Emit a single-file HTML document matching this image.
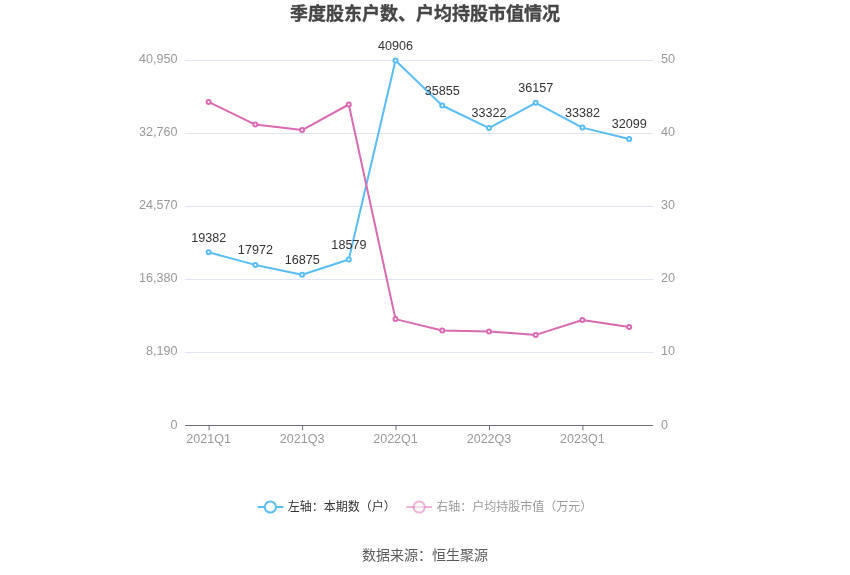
<!DOCTYPE html>
<html lang="zh"><head><meta charset="utf-8"><title>季度股东户数、户均持股市值情况</title>
<style>
html,body{margin:0;padding:0;background:#fff;}
body{width:850px;height:575px;overflow:hidden;font-family:"Liberation Sans","Noto Sans CJK SC",sans-serif;}
svg{display:block;}
svg text{font-family:"Liberation Sans","Noto Sans CJK SC",sans-serif;}
.ax{font-size:12px;fill:#999;}
.lb{font-size:12px;fill:#333;}
</style></head><body>
<svg width="850" height="575" viewBox="0 0 850 575">
<rect width="850" height="575" fill="#fff"/>
<text x="425" y="20" text-anchor="middle" font-size="18" font-weight="bold" fill="#464646" stroke="#464646" stroke-width="0.35">季度股东户数、户均持股市值情况</text>
<rect x="185" y="60" width="468" height="1" fill="#E0E6F1"/>
<rect x="185" y="133" width="468" height="1" fill="#E0E6F1"/>
<rect x="185" y="206" width="468" height="1" fill="#E0E6F1"/>
<rect x="185" y="279" width="468" height="1" fill="#E0E6F1"/>
<rect x="185" y="352" width="468" height="1" fill="#E0E6F1"/>
<rect x="185" y="425" width="468" height="1" fill="#6E7079"/>
<rect x="208.6" y="425" width="1" height="5.3" fill="#6E7079"/>
<rect x="302.1" y="425" width="1" height="5.3" fill="#6E7079"/>
<rect x="395.5" y="425" width="1" height="5.3" fill="#6E7079"/>
<rect x="489.0" y="425" width="1" height="5.3" fill="#6E7079"/>
<rect x="582.4" y="425" width="1" height="5.3" fill="#6E7079"/>
<text class="ax" x="177.6" y="62.5" text-anchor="end" textLength="38.53" lengthAdjust="spacingAndGlyphs">40,950</text>
<text class="ax" x="177.6" y="135.5" text-anchor="end" textLength="38.53" lengthAdjust="spacingAndGlyphs">32,760</text>
<text class="ax" x="177.6" y="208.5" text-anchor="end" textLength="38.53" lengthAdjust="spacingAndGlyphs">24,570</text>
<text class="ax" x="177.6" y="281.5" text-anchor="end" textLength="38.53" lengthAdjust="spacingAndGlyphs">16,380</text>
<text class="ax" x="177.6" y="354.5" text-anchor="end" textLength="31.53" lengthAdjust="spacingAndGlyphs">8,190</text>
<text class="ax" x="177.6" y="428.5" text-anchor="end" textLength="7.01" lengthAdjust="spacingAndGlyphs">0</text>
<text class="ax" x="661" y="62.5" text-anchor="start" textLength="14.01" lengthAdjust="spacingAndGlyphs">50</text>
<text class="ax" x="661" y="135.5" text-anchor="start" textLength="14.01" lengthAdjust="spacingAndGlyphs">40</text>
<text class="ax" x="661" y="208.5" text-anchor="start" textLength="14.01" lengthAdjust="spacingAndGlyphs">30</text>
<text class="ax" x="661" y="281.5" text-anchor="start" textLength="14.01" lengthAdjust="spacingAndGlyphs">20</text>
<text class="ax" x="661" y="354.5" text-anchor="start" textLength="14.01" lengthAdjust="spacingAndGlyphs">10</text>
<text class="ax" x="661" y="428.5" text-anchor="start" textLength="7.01" lengthAdjust="spacingAndGlyphs">0</text>
<text class="ax" x="208.6" y="443" text-anchor="middle" textLength="44.62" lengthAdjust="spacingAndGlyphs">2021Q1</text>
<text class="ax" x="302.1" y="443" text-anchor="middle" textLength="44.62" lengthAdjust="spacingAndGlyphs">2021Q3</text>
<text class="ax" x="395.5" y="443" text-anchor="middle" textLength="44.62" lengthAdjust="spacingAndGlyphs">2022Q1</text>
<text class="ax" x="489.0" y="443" text-anchor="middle" textLength="44.62" lengthAdjust="spacingAndGlyphs">2022Q3</text>
<text class="ax" x="582.4" y="443" text-anchor="middle" textLength="44.62" lengthAdjust="spacingAndGlyphs">2023Q1</text>
<polyline points="208.6,252.3 255.3,264.9 302.1,274.7 348.8,259.5 395.5,60.5 442.2,105.5 489.0,128.1 535.7,102.8 582.4,127.6 629.2,139.0" fill="none" stroke="#5abdf6" stroke-width="2" stroke-linejoin="bevel"/>
<circle cx="208.6" cy="252.3" r="2" fill="#fff" stroke="#5abdf6" stroke-width="2"/>
<circle cx="255.3" cy="264.9" r="2" fill="#fff" stroke="#5abdf6" stroke-width="2"/>
<circle cx="302.1" cy="274.7" r="2" fill="#fff" stroke="#5abdf6" stroke-width="2"/>
<circle cx="348.8" cy="259.5" r="2" fill="#fff" stroke="#5abdf6" stroke-width="2"/>
<circle cx="395.5" cy="60.5" r="2" fill="#fff" stroke="#5abdf6" stroke-width="2"/>
<circle cx="442.2" cy="105.5" r="2" fill="#fff" stroke="#5abdf6" stroke-width="2"/>
<circle cx="489.0" cy="128.1" r="2" fill="#fff" stroke="#5abdf6" stroke-width="2"/>
<circle cx="535.7" cy="102.8" r="2" fill="#fff" stroke="#5abdf6" stroke-width="2"/>
<circle cx="582.4" cy="127.6" r="2" fill="#fff" stroke="#5abdf6" stroke-width="2"/>
<circle cx="629.2" cy="139.0" r="2" fill="#fff" stroke="#5abdf6" stroke-width="2"/>
<polyline points="208.6,101.9 255.3,124.6 302.1,130.1 348.8,104.5 395.5,319.1 442.2,330.5 489.0,331.4 535.7,334.9 582.4,320.0 629.2,327.0" fill="none" stroke="#da6ab1" stroke-width="2" stroke-linejoin="bevel"/>
<circle cx="208.6" cy="101.9" r="2" fill="#fff" stroke="#da6ab1" stroke-width="2"/>
<circle cx="255.3" cy="124.6" r="2" fill="#fff" stroke="#da6ab1" stroke-width="2"/>
<circle cx="302.1" cy="130.1" r="2" fill="#fff" stroke="#da6ab1" stroke-width="2"/>
<circle cx="348.8" cy="104.5" r="2" fill="#fff" stroke="#da6ab1" stroke-width="2"/>
<circle cx="395.5" cy="319.1" r="2" fill="#fff" stroke="#da6ab1" stroke-width="2"/>
<circle cx="442.2" cy="330.5" r="2" fill="#fff" stroke="#da6ab1" stroke-width="2"/>
<circle cx="489.0" cy="331.4" r="2" fill="#fff" stroke="#da6ab1" stroke-width="2"/>
<circle cx="535.7" cy="334.9" r="2" fill="#fff" stroke="#da6ab1" stroke-width="2"/>
<circle cx="582.4" cy="320.0" r="2" fill="#fff" stroke="#da6ab1" stroke-width="2"/>
<circle cx="629.2" cy="327.0" r="2" fill="#fff" stroke="#da6ab1" stroke-width="2"/>
<text class="lb" x="208.7" y="242" text-anchor="middle" textLength="35.03" lengthAdjust="spacingAndGlyphs">19382</text>
<text class="lb" x="255.4" y="254" text-anchor="middle" textLength="35.03" lengthAdjust="spacingAndGlyphs">17972</text>
<text class="lb" x="302.2" y="264" text-anchor="middle" textLength="35.03" lengthAdjust="spacingAndGlyphs">16875</text>
<text class="lb" x="348.9" y="249" text-anchor="middle" textLength="35.03" lengthAdjust="spacingAndGlyphs">18579</text>
<text class="lb" x="395.6" y="50" text-anchor="middle" textLength="35.03" lengthAdjust="spacingAndGlyphs">40906</text>
<text class="lb" x="442.3" y="95" text-anchor="middle" textLength="35.03" lengthAdjust="spacingAndGlyphs">35855</text>
<text class="lb" x="489.1" y="117" text-anchor="middle" textLength="35.03" lengthAdjust="spacingAndGlyphs">33322</text>
<text class="lb" x="535.8" y="92" text-anchor="middle" textLength="35.03" lengthAdjust="spacingAndGlyphs">36157</text>
<text class="lb" x="582.5" y="117" text-anchor="middle" textLength="35.03" lengthAdjust="spacingAndGlyphs">33382</text>
<text class="lb" x="629.3" y="128" text-anchor="middle" textLength="35.03" lengthAdjust="spacingAndGlyphs">32099</text>
<g><line x1="257.6" y1="507" x2="283.4" y2="507" stroke="#5abdf6" stroke-width="2"/><circle cx="270.4" cy="507" r="5.6" fill="#fff" stroke="#5abdf6" stroke-width="2"/>
<text x="287.7" y="510.5" font-size="12" fill="#333">左轴：本期数（户）</text></g>
<g><line x1="406.3" y1="507" x2="432" y2="507" stroke="#da6ab1" stroke-opacity="0.5" stroke-width="2"/><circle cx="419.2" cy="507" r="5.6" fill="#fff" fill-opacity="0.5" stroke="#da6ab1" stroke-opacity="0.5" stroke-width="2"/>
<text x="436.3" y="510.5" font-size="12" fill="#333" fill-opacity="0.5">右轴：户均持股市值（万元）</text></g>
<text x="425" y="559.6" text-anchor="middle" font-size="14" fill="#5a5a5a">数据来源：恒生聚源</text>
</svg></body></html>
